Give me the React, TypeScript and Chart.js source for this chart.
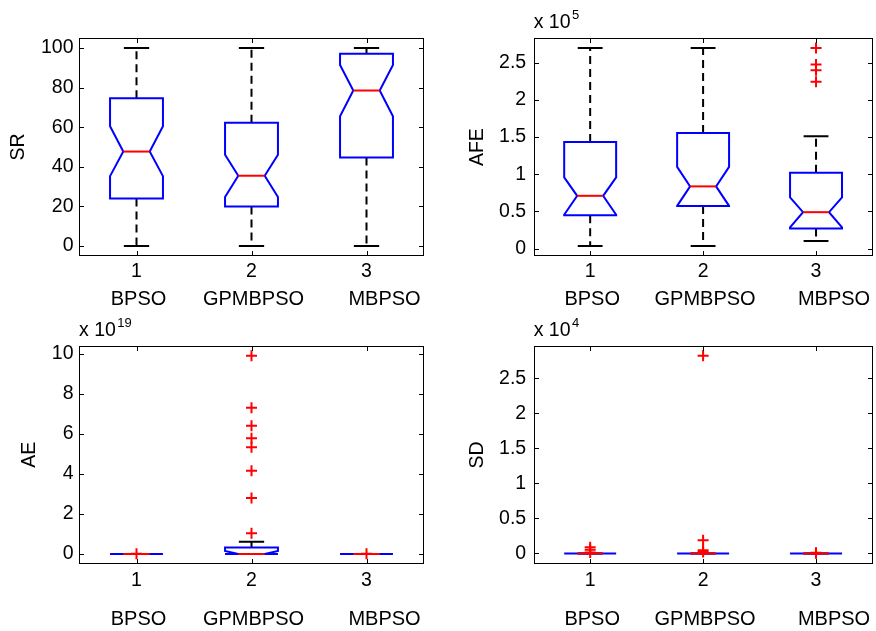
import React, { useEffect, useRef } from "react";
import { Chart, registerables } from "chart.js";
Chart.register(...registerables);

// ---------- data ----------
const categories = ["BPSO", "GPMBPSO", "MBPSO"];
const categoryPositions = [1, 2, 3];

// SR
const srLower = [0, 0, 0];
const srQ1 = [24, 20, 44.7];
const srNotchLow = [35.3, 24.8, 65.5];
const srMedian = [47.7, 35.5, 78.5];
const srNotchHigh = [60.5, 46.1, 91.4];
const srQ3 = [74.6, 62.2, 97];
const srUpper = [100, 100, 100];
const srOutliers: number[][] = [[], [], []];
const srTicks = [0, 20, 40, 60, 80, 100];

// AFE (x 10^5)
const afeLower = [3500, 3500, 10200];
const afeQ1 = [45000, 57300, 26900];
const afeNotchLow = [45600, 57400, 28500];
const afeMedian = [71000, 83700, 49000];
const afeNotchHigh = [95800, 110000, 69000];
const afeQ3 = [143300, 155400, 102000];
const afeUpper = [270000, 270000, 151300];
const afeOutliers: number[][] = [[], [], [270000, 247700, 240000, 224500]];
const afeTicks = [0, 50000, 100000, 150000, 200000, 250000];

// AE (x 10^19)
const aeLower = [0, 0, 0];
const aeQ1 = [0, 0, 0];
const aeNotchLow = [0, 0, 0];
const aeMedian = [0, 0, 0];
const aeNotchHigh = [0, 0.15e19, 0];
const aeQ3 = [0, 0.33e19, 0];
const aeUpper = [0, 0.616e19, 0];
const aeOutliers: number[][] = [
  [0.01e19],
  [9.9e19, 7.3e19, 6.4e19, 5.78e19, 5.33e19, 4.16e19, 2.8e19, 1.04e19],
  [0.01e19],
];
const aeTicks = [0, 2e19, 4e19, 6e19, 8e19, 10e19];

// SD (x 10^4)
const sdLower = [0, 0, 0];
const sdQ1 = [0, 0, 0];
const sdNotchLow = [0, 0, 0];
const sdMedian = [0, 0, 0];
const sdNotchHigh = [0, 0, 0];
const sdQ3 = [0, 0, 0];
const sdUpper = [0, 0, 0];
const sdOutliers: number[][] = [
  [900, 550, 150],
  [28200, 1900, 450, 200],
  [120, 40],
];
const sdTicks = [0, 5000, 10000, 15000, 20000, 25000];

// ---------- styles ----------
const FONT = '"Liberation Sans", Arial, Helvetica, sans-serif';
const TICK_SIZE = 19.5;
const NAME_SIZE = 20;
const BOX_WIDTH = 0.46;
const CAP_WIDTH = 0.22;
const TICK_LEN = 4.5;
const NAME_OFFSETS = [2, 2, 18];

type Stats = {
  lower: number[];
  q1: number[];
  notchLow: number[];
  median: number[];
  notchHigh: number[];
  q3: number[];
  upper: number[];
  outliers: number[][];
};

type Panel = {
  left: number;
  top: number;
  area: { l: number; t: number; r: number; b: number };
  title: string;
  titlePad: number;
  yMin: number;
  yMax: number;
  yTicks: number[];
  exponent: number;
  labelPad: number;
  xLabelPad: number;
  nameGap: number;
  stats: Stats;
};

const CANVAS_W = 440;
const CANVAS_H = 316;

const panels: Panel[] = [
  {
    left: 0, top: 0, area: { l: 79, t: 38, r: 424, b: 256 },
    title: "SR", titlePad: 6.7, yMin: -5, yMax: 105, yTicks: srTicks, exponent: 0,
    labelPad: 5.5, xLabelPad: 4.3, nameGap: 49,
    stats: { lower: srLower, q1: srQ1, notchLow: srNotchLow, median: srMedian, notchHigh: srNotchHigh, q3: srQ3, upper: srUpper, outliers: srOutliers },
  },
  {
    left: 440, top: 0, area: { l: 93.7, t: 38.3, r: 437.7, b: 256 },
    title: "AFE", titlePad: 26, yMin: -10000, yMax: 283000, yTicks: afeTicks, exponent: 5,
    labelPad: 7.5, xLabelPad: 4.3, nameGap: 49,
    stats: { lower: afeLower, q1: afeQ1, notchLow: afeNotchLow, median: afeMedian, notchHigh: afeNotchHigh, q3: afeQ3, upper: afeUpper, outliers: afeOutliers },
  },
  {
    left: 0, top: 315, area: { l: 79, t: 30.7, r: 424, b: 249 },
    title: "AE", titlePad: 17.5, yMin: -0.5e19, yMax: 10.4e19, yTicks: aeTicks, exponent: 19,
    labelPad: 5.5, xLabelPad: 4.8, nameGap: 61,
    stats: { lower: aeLower, q1: aeQ1, notchLow: aeNotchLow, median: aeMedian, notchHigh: aeNotchHigh, q3: aeQ3, upper: aeUpper, outliers: aeOutliers },
  },
  {
    left: 440, top: 315, area: { l: 93.7, t: 31, r: 437.7, b: 249 },
    title: "SD", titlePad: 26, yMin: -1500, yMax: 29600, yTicks: sdTicks, exponent: 4,
    labelPad: 7.5, xLabelPad: 4.8, nameGap: 61,
    stats: { lower: sdLower, q1: sdQ1, notchLow: sdNotchLow, median: sdMedian, notchHigh: sdNotchHigh, q3: sdQ3, upper: sdUpper, outliers: sdOutliers },
  },
];

function fmt(v: number, exp: number) {
  const s = v / Math.pow(10, exp);
  return String(parseFloat(s.toPrecision(6)));
}

function makePlugin(p: Panel) {
  return {
    id: "boxes",
    beforeDatasetsDraw(chart: any) {
      const { ctx } = chart;
      const xs = chart.scales.x;
      const ys = chart.scales.y;
      const X = (v: number) => xs.getPixelForValue(v);
      const Y = (v: number) => ys.getPixelForValue(v);
      const s = p.stats;
      const hw = BOX_WIDTH / 2;
      ctx.save();
      categoryPositions.forEach((c, i) => {
        // whiskers
        ctx.strokeStyle = "#000";
        ctx.lineWidth = 2;
        ctx.setLineDash([8, 5]);
        ctx.beginPath();
        ctx.moveTo(X(c), Y(s.q3[i]));
        ctx.lineTo(X(c), Y(s.upper[i]));
        ctx.moveTo(X(c), Y(s.q1[i]));
        ctx.lineTo(X(c), Y(s.lower[i]));
        ctx.stroke();
        ctx.setLineDash([]);
        // caps
        ctx.beginPath();
        ctx.moveTo(X(c - CAP_WIDTH / 2), Y(s.upper[i]));
        ctx.lineTo(X(c + CAP_WIDTH / 2), Y(s.upper[i]));
        ctx.moveTo(X(c - CAP_WIDTH / 2), Y(s.lower[i]));
        ctx.lineTo(X(c + CAP_WIDTH / 2), Y(s.lower[i]));
        ctx.stroke();
        // notched box
        const L = c - hw, R = c + hw, Lm = c - hw / 2, Rm = c + hw / 2;
        const pts: [number, number][] = [
          [L, s.q1[i]], [L, s.notchLow[i]], [Lm, s.median[i]], [L, s.notchHigh[i]], [L, s.q3[i]],
          [R, s.q3[i]], [R, s.notchHigh[i]], [Rm, s.median[i]], [R, s.notchLow[i]], [R, s.q1[i]],
        ];
        ctx.strokeStyle = "#0000ff";
        ctx.lineWidth = 2;
        ctx.lineJoin = "miter";
        ctx.beginPath();
        pts.forEach(([a, b], k) => (k === 0 ? ctx.moveTo(X(a), Y(b)) : ctx.lineTo(X(a), Y(b))));
        ctx.closePath();
        ctx.stroke();
        // median
        ctx.strokeStyle = "#ff0000";
        ctx.beginPath();
        ctx.moveTo(X(Lm), Y(s.median[i]));
        ctx.lineTo(X(Rm), Y(s.median[i]));
        ctx.stroke();
      });
      ctx.restore();
    },
    afterDraw(chart: any) {
      const { ctx, chartArea: a } = chart;
      const xs = chart.scales.x;
      const ys = chart.scales.y;
      ctx.save();
      // frame
      ctx.strokeStyle = "#000";
      ctx.lineWidth = 1;
      const l = Math.round(a.left) + 0.5, r = Math.round(a.right) - 0.5;
      const t = Math.round(a.top) + 0.5, b = Math.round(a.bottom) - 0.5;
      ctx.strokeRect(l, t, r - l, b - t);
      // inward ticks
      ctx.beginPath();
      p.yTicks.forEach((v) => {
        const py = Math.round(ys.getPixelForValue(v)) + 0.5;
        ctx.moveTo(l, py); ctx.lineTo(l + TICK_LEN, py);
        ctx.moveTo(r, py); ctx.lineTo(r - TICK_LEN, py);
      });
      categoryPositions.forEach((c) => {
        const px = Math.round(xs.getPixelForValue(c)) + 0.5;
        ctx.moveTo(px, b); ctx.lineTo(px, b - TICK_LEN);
        ctx.moveTo(px, t); ctx.lineTo(px, t + TICK_LEN);
      });
      ctx.stroke();
      // group names
      ctx.fillStyle = "#000";
      ctx.font = `${NAME_SIZE}px ${FONT}`;
      ctx.textAlign = "center";
      ctx.textBaseline = "alphabetic";
      categoryPositions.forEach((c, i) => {
        ctx.fillText(categories[i], xs.getPixelForValue(c) + NAME_OFFSETS[i], a.bottom + p.nameGap);
      });
      // exponent label
      if (p.exponent) {
        ctx.textAlign = "left";
        ctx.font = `${TICK_SIZE}px ${FONT}`;
        const base = a.top - 10;
        const txt = "x 10";
        ctx.fillText(txt, a.left, base);
        const w = ctx.measureText(txt).width;
        ctx.font = `13px ${FONT}`;
        ctx.fillText(String(p.exponent), a.left + w + 1.5, base - 9);
      }
      ctx.restore();
    },
  };
}

function PanelChart({ p }: { p: Panel }) {
  const ref = useRef<HTMLCanvasElement | null>(null);
  useEffect(() => {
    if (!ref.current) return;
    const outlierData = p.stats.outliers.flatMap((arr, i) =>
      arr.map((v) => ({ x: categoryPositions[i], y: v }))
    );
    const chart = new Chart(ref.current, {
      type: "scatter",
      data: {
        datasets: [
          {
            data: outlierData,
            pointStyle: "cross",
            pointRadius: 5.5,
            pointHoverRadius: 5.5,
            borderColor: "#ff0000",
            backgroundColor: "#ff0000",
            borderWidth: 2,
            pointBorderWidth: 2,
          } as any,
        ],
      },
      options: {
        animation: false,
        responsive: false,
        devicePixelRatio: 1,
        events: [],
        layout: {
          padding: { left: 0, top: p.area.t, right: CANVAS_W - p.area.r, bottom: 0 },
        },
        plugins: { legend: { display: false }, tooltip: { enabled: false } },
        scales: {
          x: {
            type: "linear",
            position: "bottom",
            min: 0.5,
            max: 3.5,
            grid: { display: false, drawTicks: false },
            border: { display: false },
            afterBuildTicks: (s: any) => {
              s.ticks = categoryPositions.map((v) => ({ value: v }));
            },
            afterFit: (s: any) => {
              s.height = CANVAS_H - p.area.b;
              s.paddingLeft = 0;
              s.paddingRight = 0;
            },
            ticks: {
              autoSkip: false,
              maxRotation: 0,
              minRotation: 0,
              padding: p.xLabelPad,
              color: "#000",
              font: { family: FONT, size: TICK_SIZE },
              callback: (v: any) => String(v),
            },
          },
          y: {
            type: "linear",
            position: "left",
            min: p.yMin,
            max: p.yMax,
            grid: { display: false, drawTicks: false },
            border: { display: false },
            afterBuildTicks: (s: any) => {
              s.ticks = p.yTicks.map((v) => ({ value: v }));
            },
            afterFit: (s: any) => {
              s.width = p.area.l;
              s.paddingTop = 0;
              s.paddingBottom = 0;
            },
            title: {
              display: true,
              text: p.title,
              color: "#000",
              font: { family: FONT, size: TICK_SIZE },
              padding: { top: p.titlePad, bottom: 0 },
            },
            ticks: {
              padding: p.labelPad,
              color: "#000",
              font: { family: FONT, size: TICK_SIZE },
              callback: (v: any) => fmt(Number(v), p.exponent),
            },
          },
        },
      } as any,
      plugins: [makePlugin(p)],
    });
    return () => chart.destroy();
  }, [p]);
  return (
    <canvas
      ref={ref}
      width={CANVAS_W}
      height={CANVAS_H}
      style={{ position: "absolute", left: p.left, top: p.top, width: CANVAS_W, height: CANVAS_H }}
    />
  );
}

export default function App() {
  return (
    <div
      style={{
        position: "fixed",
        left: 0,
        top: 0,
        width: 876,
        height: 631,
        overflow: "hidden",
        background: "#fff",
      }}
    >
      {panels.map((p, i) => (
        <PanelChart key={i} p={p} />
      ))}
    </div>
  );
}
